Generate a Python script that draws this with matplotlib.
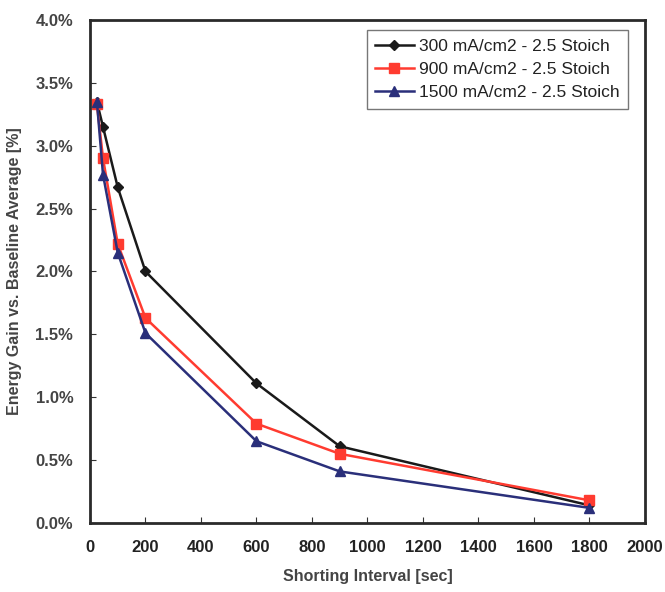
import matplotlib
matplotlib.use("Agg")
import matplotlib.pyplot as plt
from matplotlib.ticker import FuncFormatter

plt.rcParams['font.family'] = ['Liberation Sans', 'DejaVu Sans']

x = [25, 47, 100, 200, 600, 900, 1800]
s300 = [3.35, 3.15, 2.67, 2.00, 1.11, 0.61, 0.14]
s900 = [3.33, 2.90, 2.22, 1.63, 0.79, 0.55, 0.18]
s1500 = [3.35, 2.77, 2.15, 1.51, 0.65, 0.41, 0.12]
labels = ["300 mA/cm2 - 2.5 Stoich", "900 mA/cm2 - 2.5 Stoich", "1500 mA/cm2 - 2.5 Stoich"]

fig = plt.figure(figsize=(6.65, 5.92), dpi=100)
ax = fig.add_axes([0.1353, 0.1166, 0.8346, 0.8496])

ax.plot(x, s300, color='#1a1a1a', marker='D', markersize=5, lw=1.8, label=labels[0])
ax.plot(x, s900, color='#ff3b30', marker='s', markersize=6.5, lw=1.8, label=labels[1])
ax.plot(x, s1500, color='#2a2f7a', marker='^', markersize=6.5, lw=1.8, label=labels[2])

ax.set_xlim(0, 2000)
ax.set_ylim(0, 4.0)
ax.set_xticks(range(0, 2001, 200))
ax.set_yticks([i * 0.5 for i in range(9)])
ax.yaxis.set_major_formatter(FuncFormatter(lambda v, p: f"{v:.1f}%"))
ax.tick_params(direction='in', length=4, colors='#333333', labelsize=12)
ax.tick_params(axis='x', pad=12, labelcolor='#222222')
ax.tick_params(axis='y', pad=12, labelcolor='#444444')
for lab in ax.get_xticklabels() + ax.get_yticklabels():
    lab.set_fontweight('bold')
for sp in ax.spines.values():
    sp.set_color('#2a2a2a')
    sp.set_linewidth(2)

ax.set_xlabel("Shorting Interval [sec]", fontsize=11.5, fontweight='bold', color='#444444', labelpad=10)
ax.set_ylabel("Energy Gain vs. Baseline Average [%]", fontsize=11.5, fontweight='bold', color='#444444', labelpad=10)

leg = ax.legend(loc='upper right', bbox_to_anchor=(0.9695, 0.98), borderaxespad=0, fontsize=12.5,
                frameon=True, fancybox=False, edgecolor='#555555', handlelength=2.2, borderpad=0.5,
                labelspacing=0.45, handletextpad=0.3)
leg.get_frame().set_linewidth(1.0)
for t in leg.get_texts():
    t.set_color('#222222')

fig.savefig("out.png", dpi=100)
